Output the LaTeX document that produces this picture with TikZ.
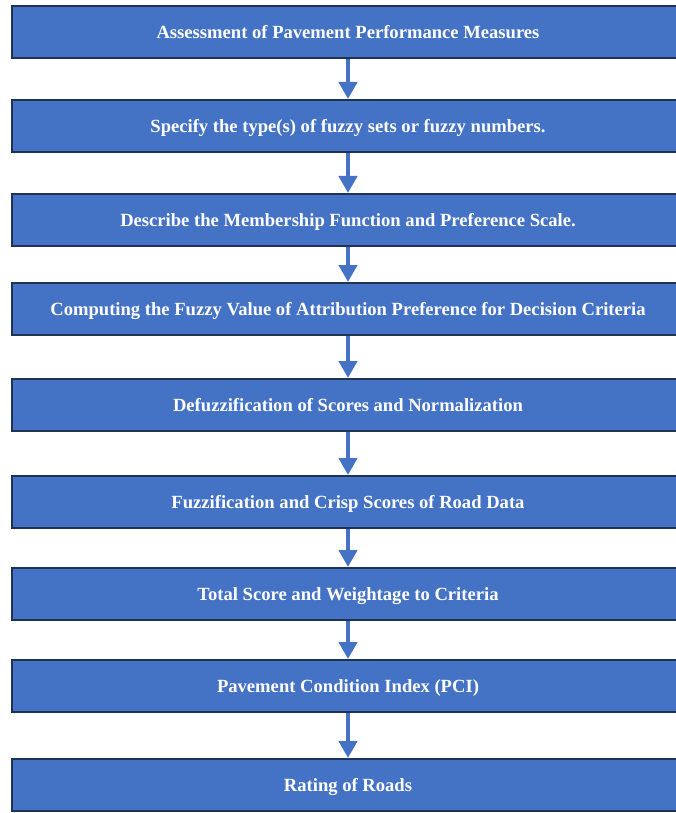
\documentclass[tikz,border=0pt]{standalone}
\usepackage{fontspec}
\setmainfont{Liberation Serif}
\usepackage{tikz}
\usetikzlibrary{arrows.meta}

\definecolor{stepblue}{HTML}{4472C4}
\definecolor{stepedge}{HTML}{1F3354}

\begin{document}
\begin{tikzpicture}[x=1pt, y=-1pt,
  box/.style={rectangle, draw=stepedge, line width=2pt, fill=stepblue,
              minimum width=672pt, minimum height=52pt, align=center,
              text height=12.4pt, text depth=0pt,
              text=white, font=\fontsize{18.6}{22}\selectfont\bfseries},
  arrow/.style={-{Triangle[width=18pt, length=17pt]}, line width=4.5pt, draw=stepblue}
]
\useasboundingbox (0,0) rectangle (676,813);

%% ---- Steps ----
\node[box] at (348, 32)  (assess)  {Assessment of Pavement Performance Measures};
\node[box] at (348,126)  (types)   {Specify the type(s) of fuzzy sets or fuzzy numbers.};
\node[box] at (348,220)  (member)  {Describe the Membership Function and Preference Scale.};
\node[box] at (348,309)  (fuzzval) {Computing the Fuzzy Value of Attribution Preference for Decision Criteria};
\node[box] at (348,405)  (defuzz)  {Defuzzification of Scores and Normalization};
\node[box] at (348,502)  (crisp)   {Fuzzification and Crisp Scores of Road Data};
\node[box] at (348,594)  (total)   {Total Score and Weightage to Criteria};
\node[box] at (348,686)  (pci)     {Pavement Condition Index (PCI)};
\node[box] at (348,785)  (rating)  {Rating of Roads};

%% ---- Arrows ----
\draw[arrow] (assess)  -- (types);
\draw[arrow] (types)   -- (member);
\draw[arrow] (member)  -- (fuzzval);
\draw[arrow] (fuzzval) -- (defuzz);
\draw[arrow] (defuzz)  -- (crisp);
\draw[arrow] (crisp)   -- (total);
\draw[arrow] (total)   -- (pci);
\draw[arrow] (pci)     -- (rating);
\end{tikzpicture}
\end{document}
